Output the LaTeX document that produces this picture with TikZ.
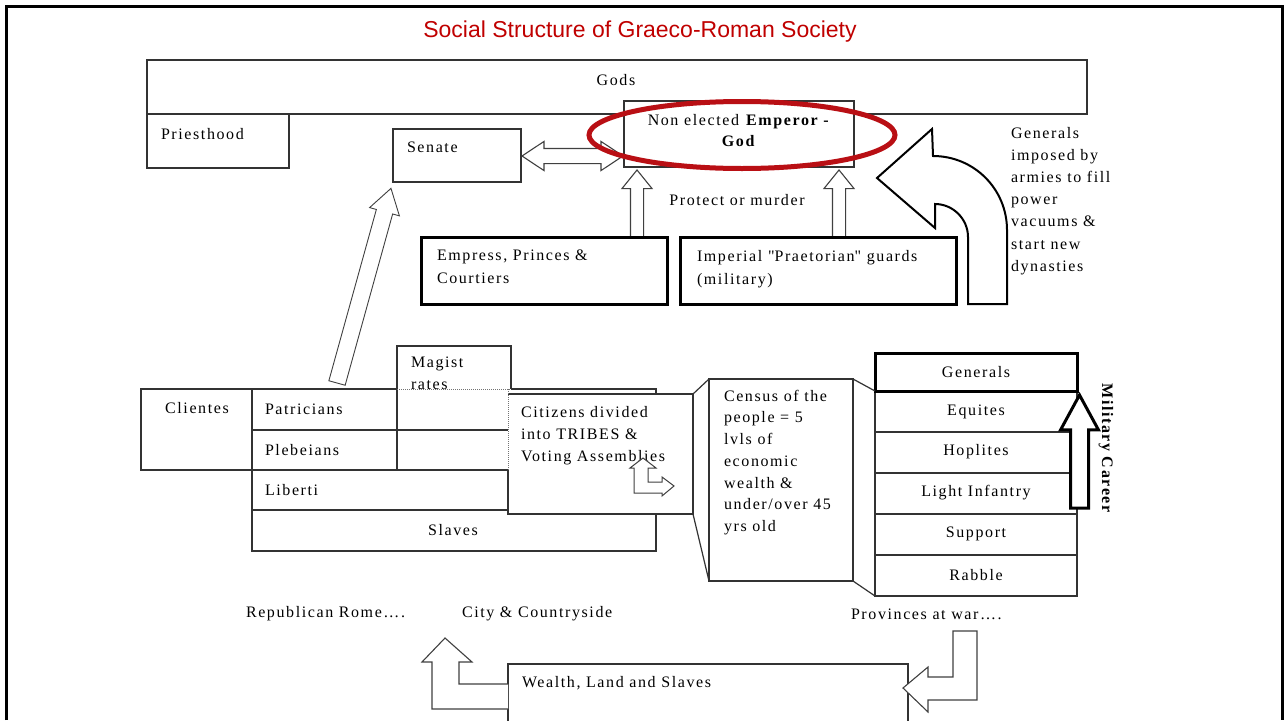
\documentclass[tikz,border=0pt]{standalone}
\usepackage{fontspec}
\setmainfont{Liberation Serif}[LetterSpace=10]
\newfontfamily\titlefont{Liberation Sans}
\usepackage{xcolor}
\usepackage{tikz}
\usetikzlibrary{shapes.arrows, shapes.geometric, positioning, fit}

\definecolor{titlered}{RGB}{192,0,0}
\definecolor{ringred}{RGB}{185,15,20}

\begin{document}
\begin{tikzpicture}[
                x=1pt, y=-1pt,
                every node/.style={font=\fontsize{16}{22}\selectfont, inner sep=0pt, outer sep=0pt},
                box/.style={draw=black!80, line width=1.2pt, fill=white},
                thickbox/.style={draw=black, line width=3pt, fill=white},
                line/.style={draw=black!80, line width=1.2pt},
                dotline/.style={draw=black!55, line width=1pt, densely dotted},
                hollow/.style={draw=black!75, line width=1.1pt, fill=white},
                uparrow/.style={single arrow, hollow, shape border rotate=90, anchor=tail, inner sep=6pt, single arrow head extend=8.5pt, single arrow tip angle=78, minimum height=67pt}
            ]

            \path[use as bounding box, fill=white] (0,0) rectangle (1287,720);

            % Frame and title
            \draw[line width=3pt] (6,720) -- (6,6) -- (1282,6) -- (1282,720);
            \node[font=\titlefont\fontsize{23}{26}\selectfont, text=titlered] (title) at (640,32) {Social Structure of Graeco-Roman Society};

            % Upper part
            \node[box, fit={(147,60) (1087,114)}] (gods) {};
            \node (godstext) at (616,80) {Gods};
            \node[box, fit={(147,114) (289,168)}] (priesthood) {};
            \node[anchor=west] (priesttext) at (161,134) {Priesthood};
            \node[box, fit={(393,129) (521,182)}] (senate) {};
            \node[anchor=west] (senatetext) at (407,147) {Senate};
            \node[box, fit={(624,101) (854,167)}] (emperor) {};
            \node[anchor=north, align=center, font=\fontsize{16}{21.5}\selectfont] (emperortext) at (739,114) {Non elected \textbf{Emperor -}\\\textbf{God}};

            \node[double arrow, hollow, inner sep=7pt, double arrow head extend=7pt, double arrow tip angle=67, minimum height=101pt] (senatelink) at (572.5,156) {};
            \node[uparrow] (courtup) at (637,237) {};
            \node[uparrow] (guardup) at (839,237) {};
            \node[ellipse, draw=ringred, line width=5pt, minimum width=306pt, minimum height=67pt] (highlight) at (742,135) {};

            \node[thickbox, fit={(421,237) (667,304)}] (empress) {};
            \node[anchor=north west, align=left, font=\fontsize{16}{22.5}\selectfont] (empresstext) at (437,250) {Empress, Princes \&\\Courtiers};
            \node[thickbox, fit={(680,237) (956,304)}] (praetorian) {};
            \node[anchor=north west, align=left, font=\fontsize{16}{23}\selectfont] (guardstext) at (697,250) {Imperial \textquotedbl Praetorian\textquotedbl{} guards\\(military)};
            \node (protect) at (737,200) {Protect or murder};

            % Generals take power
            \draw[hollow, draw=black, line width=2pt] (968,304) -- (968,237) .. controls (968,219) and (953,204) .. (935,204) -- (935,228) -- (877,178) -- (932,129) -- (933,156) .. controls (974,156) and (1007,189) .. (1007,230) -- (1007,304) -- cycle;
            \node[anchor=north west, align=left, font=\fontsize{16}{22.2}\selectfont] (generalstext) at (1011,127) {Generals\\imposed by\\armies to fill\\power\\vacuums \&\\start new\\dynasties};

            % Republican orders
            \node[box, fit={(141,389) (252,470)}] (clientes) {};
            \node (clientestext) at (197,408) {Clientes};
            \node[box, fit={(252,389) (397,430)}] (patricians) {};
            \node[right=13pt of patricians.west] (patriciantext) {Patricians};
            \node[box, fit={(252,430) (397,470)}] (plebeians) {};
            \node[right=13pt of plebeians.west] (plebeiantext) {Plebeians};
            \node[box, fit={(252,470) (508,510)}] (liberti) {};
            \node[right=13pt of liberti.west] (libertitext) {Liberti};
            \node[box, fit={(252,510) (656,551)}] (slaves) {};
            \node (slavestext) at (453,530) {Slaves};

            \draw[line] (397,389) -- (397,346) -- (511,346) -- (511,389);
            \draw[line] (397,430) -- (508,430);
            \draw[line] (397,470) -- (511,470);
            \draw[line] (511,389) -- (656,389) -- (656,394);
            \draw[dotline] (397,389) -- (511,389);
            \node[anchor=north west, align=left] (magtext) at (411,357) {Magist\\rates};

            \node[single arrow, hollow, line width=0.9pt, rotate=74.5, anchor=tail, inner sep=8pt, single arrow head extend=7pt, single arrow tip angle=65, minimum height=202pt] (riseup) at (337,383) {};

            % Citizens and census
            \node[fill=white, fit={(508,394) (693,514)}] (citizens) {};
            \draw[line] (508,470) -- (citizens.south west) -- (citizens.south east) -- (citizens.north east) -- (citizens.north west);
            \draw[dotline] (508,389) -- (508,470);
            \node[anchor=north west, align=left] (citizentext) at (521,406) {Citizens divided\\into TRIBES \&\\Voting Assemblies};
            \draw[hollow, line width=1pt] (634,493) -- (634,468) -- (630,468) -- (643,458) -- (656,468) -- (648,468) -- (648,482) -- (662,482) -- (662,477) -- (674,486) -- (662,496) -- (662,493) -- cycle;

            \node[box, fit={(709,379) (853,581)}] (census) {};
            \node[anchor=north west, align=left, font=\fontsize{16}{21.7}\selectfont] (censustext) at (724,390) {Census of the\\people = 5\\lvls of\\economic\\wealth \&\\under/over 45\\yrs old};

            % Army
            \node[box, fit={(875,391) (1077,432)}] (equites) {};
            \node[box, fit={(875,432) (1077,473)}] (hoplites) {};
            \node[box, fit={(875,473) (1077,514)}] (lightinf) {};
            \node[box, fit={(875,514) (1077,555)}] (support) {};
            \node[box, fit={(875,555) (1077,596)}] (rabble) {};
            \node[thickbox, fit={(875,353) (1077,391)}] (generals) {};
            \node (generalsrank) at (976,372) {Generals};
            \node (equitestext) at (976,412) {Equites};
            \node (hoplitestext) at (976,452) {Hoplites};
            \node (lightinftext) at (976,493) {Light Infantry};
            \node (supporttext) at (976,534) {Support};
            \node (rabbletext) at (976,575) {Rabble};
            \draw[line] (citizens.north east) -- (census.north west);
            \draw[line] (citizens.south east) -- (census.south west);
            \draw[line] (census.north east) -- (generals.south west);
            \draw[line] (census.south east) -- (rabble.south west);

            \node[single arrow, draw=black, line width=3pt, fill=white, shape border rotate=90, anchor=tail, inner sep=7.5pt, single arrow head extend=10pt, single arrow tip angle=57, minimum height=113pt] (careerup) at (1079.5,508) {};
            \node[rotate=-90, font=\bfseries\fontsize{16}{20}\selectfont] (career) at (1106,448) {Military Career};

            % Wealth flow
            \node[anchor=west] (repub) at (246,614) {Republican Rome….};
            \node[anchor=west] (city) at (462,614) {City \& Countryside};
            \node[anchor=west] (provinces) at (851,614) {Provinces at war….};
            \node[box, fit={(508,664) (908,735)}] (wealth) {};
            \node[anchor=west] (wealthtext) at (522,683) {Wealth, Land and Slaves};
            \draw[hollow] (wealth.west |- 0,709) -- (432,709) -- (432,662) -- (422,662) -- (445,638) -- (472,662) -- (459,662) -- (459,684) -- (wealth.west |- 0,684);
            \draw[hollow] (953,631) -- (977,631) -- (977,700) -- (928,700) -- (928,712) -- (903,688) -- (928,667) -- (928,677) -- (953,677) -- cycle;
\end{tikzpicture}
\end{document}
